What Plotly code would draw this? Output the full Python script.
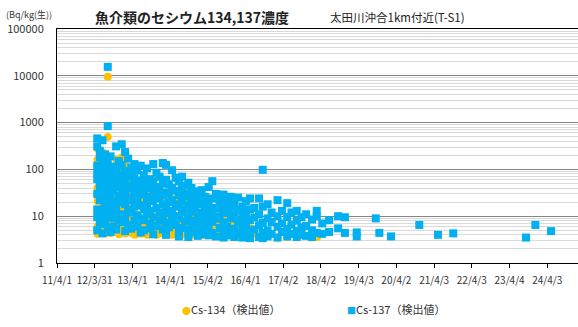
import plotly.graph_objects as go

# ---- sampling dates and measured concentrations (Bq/kg wet) ----
cs137_dates = [
    "2012-04-25", "2012-05-20", "2012-06-15", "2012-07-10", "2012-08-05", "2012-09-01",
    "2012-09-28", "2012-10-25", "2012-11-20", "2012-12-18", "2013-01-20", "2013-02-18",
    "2013-03-20", "2013-04-20", "2013-05-20", "2013-06-20", "2013-07-20", "2013-08-20",
    "2013-09-20", "2013-10-20", "2013-11-20", "2013-12-20", "2014-01-20", "2014-02-20",
    "2014-03-20", "2014-04-20", "2014-05-25", "2014-06-25", "2014-07-25", "2014-08-25",
    "2014-09-25", "2014-10-25", "2014-11-25", "2014-12-25", "2015-02-01", "2015-03-05",
    "2015-04-10", "2015-05-15", "2015-06-20", "2015-07-25", "2015-09-01", "2015-10-05",
    "2015-11-10", "2015-12-15", "2016-01-20", "2016-03-01", "2016-04-05", "2016-05-15",
    "2016-06-25", "2016-08-10", "2016-09-15", "2016-11-01", "2016-12-10", "2017-02-05",
    "2017-03-20", "2017-05-10", "2017-06-20", "2017-08-10", "2017-09-25", "2017-11-10",
    "2018-01-05", "2018-02-20", "2018-04-15", "2018-06-20", "2018-09-15", "2018-11-20",
    "2019-03-15", "2019-09-15", "2019-10-20", "2020-02-10", "2020-11-10", "2021-05-10",
    "2021-10-05", "2023-09-10", "2023-12-10", "2024-05-10",
]
cs137_values = [
    [460, 310, 120, 85, 62, 30, 14, 9.5, 5],
    [250, 180, 95, 48, 40, 22, 12, 6.8],
    [420, 140, 105, 70, 33, 26, 11, 8, 4.3],
    [210, 160, 58, 44, 19, 15, 7],
    [15500, 840, 130, 90, 52, 36, 24, 10, 5.5],
    [190, 75, 66, 28, 17, 12.5, 4.6],
    [115, 88, 47, 35, 21, 9, 6],
    [310, 100, 60, 42, 16, 13, 5.2],
    [150, 78, 55, 27, 20, 8.5],
    [345, 125, 64, 38, 23, 11, 7.5],
    [235, 92, 50, 31, 18, 9.6, 4.8],
    [170, 70, 45, 25, 14, 6.5],
    [110, 80, 39, 22, 12, 5.4],
    [130, 65, 48, 30, 16, 8],
    [95, 58, 34, 20, 10.5, 6],
    [120, 44, 29, 17, 9, 4.5],
    [75, 52, 36, 14, 8.2, 5],
    [105, 40, 26, 19, 11],
    [62, 46, 23, 13, 7, 5.5],
    [130, 55, 33, 21, 9.5, 4.1],
    [85, 38, 27, 15, 6.2],
    [70, 42, 24, 12, 8],
    [137, 50, 28, 18, 10, 5.2],
    [125, 60, 32, 14, 7.2, 4],
    [48, 30, 20, 11.5, 5.8],
    [96, 40, 22, 13, 8.4],
    [66, 35, 18, 10, 6.5],
    [55, 28, 16, 9, 4.8, 3.7],
    [70, 38, 21, 12, 5.6],
    [45, 26, 14, 7.8],
    [52, 30, 17, 9.5, 5.1, 3.6],
    [40, 22, 12.5, 6.6],
    [34, 25, 15, 8, 4.5],
    [28, 18, 10, 5.5, 3.8],
    [36, 21, 12, 7, 4.1],
    [26, 16, 9.2, 5],
    [42, 19, 11, 6.2, 3.9],
    [56, 24, 13, 7.6, 4.4],
    [30, 15, 8.8, 3.7],
    [23, 17, 10, 5.6],
    [29, 14, 7.4, 4.2, 3.5],
    [20, 12, 6, 3.9],
    [26, 16, 9, 4.7],
    [18, 11, 5.4, 3.6],
    [25, 13.5, 7.8, 4.3],
    [16, 10, 5.8, 3.5],
    [21, 12, 6.8, 4.1],
    [24, 14, 8.2, 4.6, 3.4],
    [15, 9.4, 5.2],
    [24, 11, 6.4, 3.6],
    [98, 16, 7.2, 4.4, 3.4],
    [18, 9, 5, 3.7],
    [12, 7.5, 4.2],
    [22, 10, 6, 3.5],
    [13, 7, 4.6],
    [19, 9.6, 5.4, 3.7],
    [12, 6.6, 4.2],
    [13, 8, 4.8, 3.6],
    [9.5, 5.8, 4],
    [11, 6.2, 3.8],
    [8.5, 5, 3.6],
    [13, 10, 4.4],
    [7, 4.2],
    [8.2, 4.6],
    [10, 5.5],
    [9.5, 4.4],
    [4.5, 3.7],
    [9],
    [4.4],
    [3.7],
    [6.5],
    [4.0],
    [4.3],
    [3.5],
    [6.5],
    [4.8],
]

cs134_dates = [
    "2012-04-28", "2012-05-23", "2012-06-18", "2012-07-13", "2012-08-05", "2012-09-04",
    "2012-10-01", "2012-10-28", "2012-11-23", "2012-12-21", "2013-01-23", "2013-02-21",
    "2013-03-23", "2013-04-23", "2013-05-23", "2013-06-23", "2013-07-23", "2013-08-23",
    "2013-09-23", "2013-10-23", "2013-11-23", "2013-12-23", "2014-01-23", "2014-02-23",
    "2014-03-23", "2014-04-23", "2014-05-28", "2014-06-28", "2014-07-28", "2014-08-28",
    "2014-09-28", "2014-10-28", "2014-11-28", "2014-12-28", "2015-02-04", "2015-03-08",
    "2015-04-13", "2015-05-18", "2015-06-23", "2015-07-28", "2015-09-04", "2015-10-08",
    "2015-11-13", "2015-12-18", "2016-01-23", "2016-03-04", "2016-04-08", "2016-05-18",
    "2016-06-28", "2016-09-18", "2016-11-04", "2017-02-08", "2017-05-13", "2018-02-23",
]
cs134_values = [
    [280, 160, 70, 40, 21, 11, 6, 4.2],
    [150, 90, 50, 26, 13, 7.5, 4.5],
    [230, 75, 55, 18, 9, 5],
    [120, 60, 30, 12, 6.2, 4.3],
    [9600, 490, 70, 45, 20, 10, 4.8],
    [100, 38, 15, 7.5, 4.4],
    [60, 45, 22, 8, 5],
    [160, 50, 24, 9, 4.6],
    [80, 40, 14, 6, 4.1],
    [180, 60, 20, 10, 4.5],
    [120, 45, 16, 7, 4.3],
    [85, 32, 12, 4.8],
    [55, 20, 9, 4.4],
    [62, 28, 11, 5, 4],
    [45, 17, 7, 4.3],
    [55, 20, 8, 4.2],
    [35, 15, 6, 4.5],
    [48, 18, 7.5, 4],
    [28, 12, 5.2, 4.2],
    [58, 22, 9, 4.4],
    [36, 14, 5.5, 4],
    [30, 11, 6.5, 4.3],
    [55, 20, 8, 4.6],
    [50, 16, 6, 4],
    [20, 9, 4.8],
    [36, 12, 5.5, 4],
    [24, 10, 4.5],
    [20, 8, 4.2],
    [25, 10, 4.8],
    [16, 7, 4],
    [18, 8, 4.3],
    [14, 6, 4],
    [11, 6.5, 4.2],
    [9, 4.8],
    [11, 5.5, 4],
    [8, 4.6],
    [12, 5.8, 4],
    [15, 6.4, 4.3],
    [9, 4.5],
    [6.5, 4.2],
    [8, 4.4],
    [5.5, 3.8],
    [7, 4.4],
    [5, 3.9],
    [6, 4],
    [4.8],
    [5.2, 3.8],
    [5.5],
    [4.2],
    [4.3],
    [4.6],
    [3.5],
    [3.6],
    [3.6],
]

# x-axis ticks (one per fiscal year)
tick_dates = [
    "2011-04-01", "2012-03-31", "2013-04-01", "2014-04-01", "2015-04-02", "2016-04-01",
    "2017-04-02", "2018-04-02", "2019-04-03", "2020-04-02", "2021-04-03", "2022-04-03",
    "2023-04-04", "2024-04-03",
]
tick_labels = [
    "11/4/1", "12/3/31", "13/4/1", "14/4/1", "15/4/2", "16/4/1", "17/4/2", "18/4/2",
    "19/4/3", "20/4/2", "21/4/3", "22/4/3", "23/4/4", "24/4/3",
]
y_tickvals = [1, 10, 100, 1000, 10000, 100000]
y_ticklabels = ["1", "10", "100", "1000", "10000", "100000"]

ORANGE = "#FFC000"
BLUE = "#00B0F0"
FONT = "Noto Sans CJK JP"


def flatten(dates, groups):
    xs, ys = [], []
    for d, vals in zip(dates, groups):
        for v in vals:
            xs.append(d)
            ys.append(v)
    return xs, ys


x134, y134 = flatten(cs134_dates, cs134_values)
x137, y137 = flatten(cs137_dates, cs137_values)

fig = go.Figure()
fig.add_trace(go.Scatter(
    x=x134, y=y134, mode="markers", name="Cs-134（検出値）",
    marker=dict(symbol="circle", size=8, color=ORANGE, line=dict(width=0)),
    showlegend=False,
))
fig.add_trace(go.Scatter(
    x=x137, y=y137, mode="markers", name="Cs-137（検出値）",
    marker=dict(symbol="square", size=8, color=BLUE, line=dict(width=0)),
    showlegend=False,
))

fig.update_layout(
    width=578, height=327,
    margin=dict(l=57, r=0, t=29, b=64),
    paper_bgcolor="white", plot_bgcolor="white",
    font=dict(family=FONT, color="#333333"),
    xaxis=dict(
        type="date",
        range=["2011-04-01", "2025-01-26"],
        tickvals=tick_dates, ticktext=tick_labels, tickangle=0,
        tickfont=dict(size=10, color="#333333"),
        ticks="outside", ticklen=4, tickcolor="black", ticklabelstandoff=4,
        showline=True, linecolor="black", linewidth=1, mirror=True,
        showgrid=False, zeroline=False,
    ),
    yaxis=dict(
        type="log", range=[0, 5],
        tickvals=y_tickvals, ticktext=y_ticklabels,
        tickfont=dict(size=11, color="#333333"),
        ticks="", ticklabelstandoff=10,
        showline=True, linecolor="black", linewidth=1,
        showgrid=True, gridcolor="#868686", gridwidth=1,
        minor=dict(dtick="D1", showgrid=True, gridcolor="#d9d9d9", gridwidth=1, ticks=""),
        zeroline=False,
    ),
)

fig.add_annotation(
    text="<b>魚介類のセシウム134,137濃度</b>", xref="paper", yref="paper",
    x=0.259, y=1.0, yshift=12, showarrow=False, xanchor="center", yanchor="middle",
    font=dict(size=14, color="#222222", family=FONT),
)
fig.add_annotation(
    text="太田川沖合1km付近(T-S1)", xref="paper", yref="paper",
    x=0.52, y=1.0, yshift=12, showarrow=False, xanchor="left", yanchor="middle",
    font=dict(size=11.5, color="#222222", family=FONT),
)
fig.add_annotation(
    text="(Bq/kg(生))", xref="paper", yref="paper",
    x=0, xshift=-53, y=1.0, yshift=15, showarrow=False, xanchor="left", yanchor="middle",
    font=dict(size=9, color="#333333", family=FONT),
)
fig.add_annotation(
    text=f"<span style='color:{ORANGE};font-size:9px'>●</span>Cs-134（検出値）",
    xref="paper", yref="paper",
    x=0.237, y=0, yshift=-46, showarrow=False, xanchor="left", yanchor="middle",
    font=dict(size=11, color="#333333", family=FONT),
)
fig.add_annotation(
    text=f"<span style='color:{BLUE};font-size:9px'>■</span>Cs-137（検出値）",
    xref="paper", yref="paper",
    x=0.552, y=0, yshift=-46, showarrow=False, xanchor="left", yanchor="middle",
    font=dict(size=11, color="#333333", family=FONT),
)

fig.write_html("out.html")
